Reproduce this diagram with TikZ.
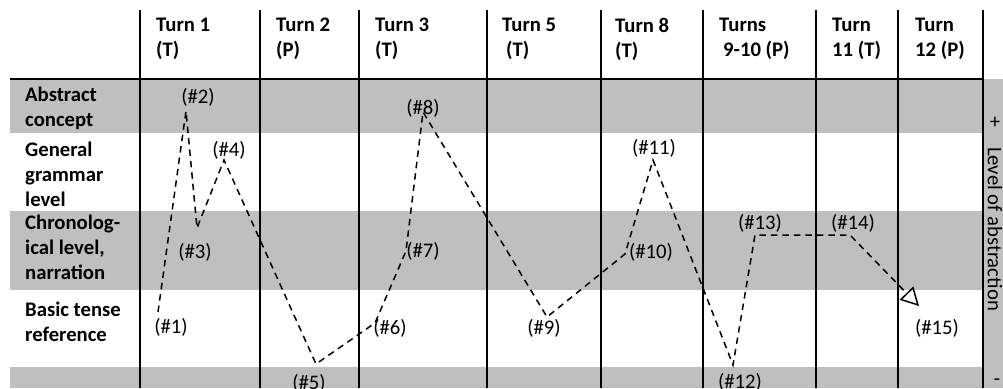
\documentclass[tikz,border=0pt]{standalone}
\usepackage{fontspec}
\setmainfont{Carlito}
\usepackage{tikz}
\usetikzlibrary{arrows.meta}
\definecolor{bandgray}{RGB}{191,191,191}
\tikzstyle{band}=[fill=bandgray, draw=none]
\tikzstyle{rule}=[line width=2pt]
\tikzstyle{head}=[anchor=north west, inner sep=0pt, align=left, font=\bfseries\fontsize{20.7}{24.8}\selectfont]
\tikzstyle{rowlabel}=[head]
\tikzstyle{move}=[inner sep=0pt, font=\fontsize{20.7}{24.8}\selectfont]
\tikzstyle{trace}=[line width=1.5pt, dash pattern=on 6.5pt off 5pt]

\begin{document}
\begin{tikzpicture}[x=1pt, y=-1pt]
        \useasboundingbox (0,0) rectangle (1003,388);
        \clip (0,0) rectangle (1003,388);
        % shaded rows
        \fill[band] (10,79) rectangle (983,133);
        \fill[band] (10,211) rectangle (983,290);
        \fill[band] (10,367) rectangle (983,388);
        \fill[band] (983,79) rectangle (1003,388);
        \foreach \x in {140,260,359,487,601,703,816,898,983}
            \draw[rule] (\x,10) -- (\x,388);
        \draw[line width=2.6pt] (10,79) -- (983,79);
        % column heads
        \node[head] (h1) at (156,18) {Turn 1\\(T)};
        \node[head] (h2) at (276,18) {Turn 2\\(P)};
        \node[head] (h3) at (375,18) {Turn 3\\(T)};
        \node[head] (h5) at (502,18) {Turn 5\\\hspace*{4pt}(T)};
        \node[head] (h8) at (615,18) {Turn 8\\(T)};
        \node[head] (h9) at (719,18) {Turns\\\hspace*{4pt}9-10 (P)};
        \node[head] (h11) at (832,18) {Turn\\11 (T)};
        \node[head] (h12) at (915,18) {Turn\\12 (P)};
        % row heads
        \node[rowlabel] (r1) at (25,87) {Abstract\\concept};
        \node[rowlabel] (r2) at (25,142) {General\\grammar\\level};
        \node[rowlabel] (r3) at (25,215) {Chronolog-\\ical level,\\narration};
        \node[rowlabel] (r4) at (25,302) {Basic tense\\reference};
        % level axis
        \node[move] (plus) at (995,123) {+};
        \node[move, rotate=-90] (axis) at (995,229) {Level of abstraction};
        \node[move] (minus) at (997,382) {-};
        % moves
        \coordinate (p1) at (158,312);
        \coordinate (p2) at (186,111);
        \coordinate (p3) at (197,228);
        \coordinate (p4) at (224,160);
        \coordinate (p5) at (316,364);
        \coordinate (p6) at (375,323);
        \coordinate (p7) at (406,251);
        \coordinate (p8) at (423,112);
        \coordinate (p9) at (547,317);
        \coordinate (p10) at (625,254);
        \coordinate (p11) at (653,160);
        \coordinate (p12) at (733,365);
        \coordinate (p13) at (755,235);
        \coordinate (p14) at (850,235);
        \coordinate (p15) at (919,306);
        \node[move] (m1) at (171,327) {(\#1)};
        \node[move] (m2) at (198,97) {(\#2)};
        \node[move] (m3) at (195,252) {(\#3)};
        \node[move] (m4) at (229,150) {(\#4)};
        \node[move] (m5) at (309,383) {(\#5)};
        \node[move] (m6) at (390,328) {(\#6)};
        \node[move] (m7) at (423,251) {(\#7)};
        \node[move] (m8) at (423,108) {(\#8)};
        \node[move] (m9) at (544,328) {(\#9)};
        \node[move] (m10) at (651,252) {(\#10)};
        \node[move] (m11) at (654,148) {(\#11)};
        \node[move] (m12) at (740,382) {(\#12)};
        \node[move] (m13) at (760,223) {(\#13)};
        \node[move] (m14) at (853,223) {(\#14)};
        \node[move] (m15) at (937,328) {(\#15)};
        \draw[trace, -{Triangle[open, length=18pt, width=19pt]}] (p1) -- (p2) -- (p3) -- (p4) -- (p5)
            -- (p6) -- (p7) -- (p8) -- (p9) -- (p10) -- (p11) -- (p12) -- (p13) -- (p14) -- (p15);
    \end{tikzpicture}
\end{document}
